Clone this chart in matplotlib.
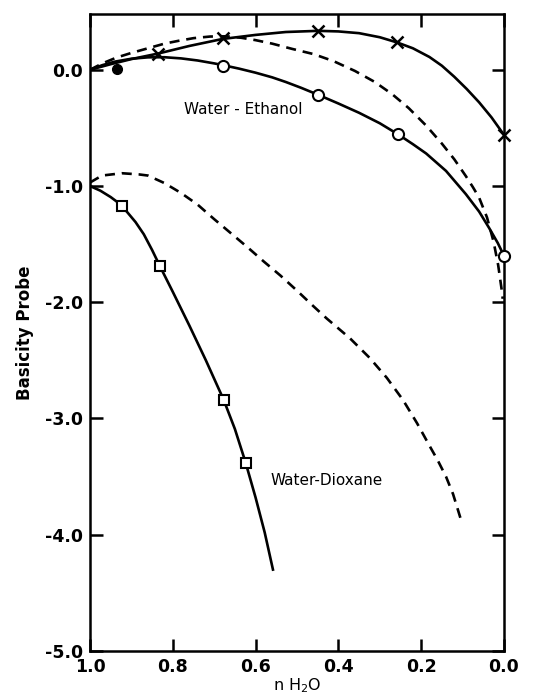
import matplotlib
matplotlib.use("Agg")
import matplotlib.pyplot as plt

# ---- data ----
# Water-Ethanol, crosses (solid curve)
eth_x_curve_x = [1.0, 0.95, 0.90, 0.835, 0.76, 0.68, 0.60, 0.527, 0.449, 0.40, 0.35, 0.30, 0.258,
                 0.22, 0.18, 0.15, 0.12, 0.09, 0.06, 0.03, 0.0]
eth_x_curve_y = [0.0, 0.048, 0.092, 0.14, 0.205, 0.265, 0.30, 0.325, 0.335, 0.33, 0.315, 0.28, 0.235,
                 0.185, 0.11, 0.035, -0.06, -0.165, -0.28, -0.41, -0.56]
eth_x_pts_x = [0.835, 0.679, 0.449, 0.258, 0.0]
eth_x_pts_y = [0.14, 0.27, 0.335, 0.235, -0.56]

# Water-Ethanol, circles (solid curve)
eth_o_curve_x = [1.0, 0.97, 0.94, 0.90, 0.86, 0.82, 0.78, 0.74, 0.70, 0.679, 0.64, 0.60, 0.56, 0.527,
                 0.49, 0.449, 0.40, 0.35, 0.30, 0.256, 0.22, 0.188, 0.14, 0.092, 0.06, 0.036, 0.015, 0.0]
eth_o_curve_y = [0.0, 0.04, 0.07, 0.095, 0.107, 0.108, 0.098, 0.08, 0.055, 0.04, 0.01, -0.025, -0.065, -0.105,
                 -0.155, -0.215, -0.29, -0.37, -0.46, -0.555, -0.64, -0.72, -0.87, -1.07, -1.22, -1.36, -1.49, -1.60]
eth_o_pts_x = [0.679, 0.449, 0.256, 0.0]
eth_o_pts_y = [0.035, -0.22, -0.555, -1.60]
eth_filled_x = [0.935]
eth_filled_y = [0.01]

# Water-Ethanol, dashed curve
eth_d_x = [1.0, 0.97, 0.936, 0.90, 0.86, 0.82, 0.785, 0.75, 0.71, 0.67, 0.634, 0.60, 0.56, 0.512,
           0.46, 0.412, 0.36, 0.312, 0.27, 0.23, 0.188, 0.15, 0.12, 0.092, 0.075, 0.06, 0.041,
           0.025, 0.014, 0.006, 0.003]
eth_d_y = [0.0, 0.055, 0.105, 0.145, 0.185, 0.225, 0.25, 0.272, 0.286, 0.288, 0.275, 0.255, 0.225, 0.18,
           0.135, 0.075, -0.01, -0.105, -0.21, -0.33, -0.48, -0.635, -0.77, -0.915, -1.01, -1.10, -1.27,
           -1.48, -1.68, -1.88, -1.97]

# Water-Dioxane, squares (solid curve)
diox_s_curve_x = [1.0, 0.975, 0.95, 0.935, 0.923, 0.91, 0.89, 0.87, 0.85, 0.831, 0.80, 0.76, 0.72,
                  0.677, 0.65, 0.624, 0.60, 0.578, 0.558]
diox_s_curve_y = [-1.0, -1.04, -1.095, -1.135, -1.175, -1.225, -1.31, -1.415, -1.55, -1.69, -1.91, -2.20, -2.50,
                  -2.84, -3.09, -3.38, -3.68, -3.98, -4.30]
diox_s_pts_x = [0.923, 0.831, 0.677, 0.624]
diox_s_pts_y = [-1.175, -1.69, -2.84, -3.38]

# Water-Dioxane, dashed curve
diox_d_x = [1.0, 0.971, 0.923, 0.882, 0.86, 0.82, 0.78, 0.74, 0.70, 0.66, 0.62, 0.58, 0.54, 0.50,
            0.46, 0.428, 0.40, 0.372, 0.324, 0.283, 0.244, 0.21, 0.179, 0.16, 0.14, 0.123, 0.11, 0.104]
diox_d_y = [-0.97, -0.91, -0.89, -0.90, -0.91, -0.975, -1.06, -1.16, -1.285, -1.405, -1.525, -1.65, -1.77, -1.90,
            -2.035, -2.14, -2.225, -2.31, -2.48, -2.65, -2.84, -3.04, -3.24, -3.36, -3.50, -3.65, -3.80, -3.87]

x_ticks = [1.0, 0.8, 0.6, 0.4, 0.2, 0.0]
x_tick_labels = ["1.0", "0.8", "0.6", "0.4", "0.2", "0.0"]
y_ticks = [0.0, -1.0, -2.0, -3.0, -4.0, -5.0]
y_tick_labels = ["0.0", "-1.0", "-2.0", "-3.0", "-4.0", "-5.0"]

fig = plt.figure(figsize=(5.5, 6.96), dpi=100)
ax = fig.add_axes([0.1636, 0.0647, 0.7527, 0.9152])

lw = 1.9
dash = (0, (3.8, 2.6))
ax.plot(eth_x_curve_x, eth_x_curve_y, color="black", lw=lw, solid_joinstyle="round")
ax.plot(eth_o_curve_x, eth_o_curve_y, color="black", lw=lw, solid_joinstyle="round")
ax.plot(eth_d_x, eth_d_y, color="black", lw=lw, linestyle=dash, dash_capstyle="butt")
ax.plot(diox_s_curve_x, diox_s_curve_y, color="black", lw=lw, solid_joinstyle="round")
ax.plot(diox_d_x, diox_d_y, color="black", lw=lw, linestyle=dash, dash_capstyle="butt")

ax.plot(eth_x_pts_x, eth_x_pts_y, linestyle="none", marker="x", ms=8, mew=1.8, color="black", clip_on=False, zorder=5)
ax.plot(eth_o_pts_x, eth_o_pts_y, linestyle="none", marker="o", ms=8, mew=1.5, mfc="white", mec="black", clip_on=False, zorder=5)
ax.plot(eth_filled_x, eth_filled_y, linestyle="none", marker="o", ms=7, color="black", zorder=5)
ax.plot(diox_s_pts_x, diox_s_pts_y, linestyle="none", marker="s", ms=7, mew=1.5, mfc="white", mec="black", zorder=5)

ax.text(0.63, -0.34, "Water - Ethanol", fontsize=11, ha="center", va="center")
ax.text(0.428, -3.53, "Water-Dioxane", fontsize=11, ha="center", va="center")

ax.set_xlim(1.0, 0.0)
ax.set_ylim(-5.0, 0.48)
ax.set_xticks(x_ticks)
ax.set_xticklabels(x_tick_labels)
ax.set_yticks(y_ticks)
ax.set_yticklabels(y_tick_labels)
ax.tick_params(direction="in", length=9, width=1.8, top=True, right=True,
               labelsize=12.5, pad=5)
for lab in ax.get_xticklabels() + ax.get_yticklabels():
    lab.set_fontweight("bold")
for sp in ax.spines.values():
    sp.set_linewidth(1.8)

ax.set_ylabel("Basicity Probe", fontsize=12, fontweight="bold", labelpad=8)
ax.set_xlabel("n H$_2$O", fontsize=11.5, labelpad=0)

fig.savefig("out.png", dpi=100)
